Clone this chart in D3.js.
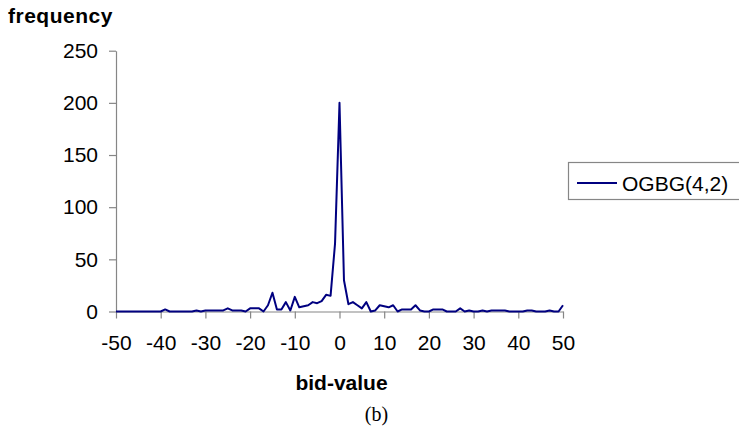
<!DOCTYPE html>
<html>
<head>
<meta charset="utf-8">
<script src="https://cdn.jsdelivr.net/npm/d3@7/dist/d3.min.js"></script>
<style>
  html, body { margin: 0; padding: 0; background: #fff; }
  svg { display: block; }
</style>
</head>
<body>
<svg id="chart" width="739" height="426"></svg>
<script>
// ---- data ----
const bidValues = [
  -50,-49,-48,-47,-46,-45,-44,-43,-42,-41,
  -40,-39,-38,-37,-36,-35,-34,-33,-32,-31,
  -30,-29,-28,-27,-26,-25,-24,-23,-22,-21,
  -20,-19,-18,-17,-16,-15,-14,-13,-12,-11,
  -10,-9,-8,-7,-6,-5,-4,-3,-2,-1,
  0,
  1,2,3,4,5,6,7,8,9,10,
  11,12,13,14,15,16,17,18,19,20,
  21,22,23,24,25,26,27,28,29,30,
  31,32,33,34,35,36,37,38,39,40,
  41,42,43,44,45,46,47,48,49,50
];
const frequencyOGBG = [
  0,0,0,0,0,0,0,0,0,0,
  0,2,0,0,0,0,0,0,1,0,
  1,1,1,1,1,3,1,1,1,0,
  3,3,3,0,6,18,2,2,9,1,
  14,4,5,6,9,8,10,16,15,65,
  200,
  30,7,9,6,3,9,0,1,6,5,
  4,6,0,2,2,2,6,1,0,0,
  2,2,2,0,0,0,3,0,1,0,
  0,1,0,1,1,1,1,0,0,0,
  0,1,1,0,0,0,1,0,0,6
];
const xTickValues = [-50,-40,-30,-20,-10,0,10,20,30,40,50];
const yTickValues = [0,50,100,150,200,250];
const seriesName = "OGBG(4,2)";
const yTitle = "frequency";
const xTitle = "bid-value";
const caption = "(b)";

// ---- drawing ----
const svg = d3.select("#chart");
const axisColor = "#868686";
const lineColor = "#000080";
const font = "'Liberation Sans', Arial, sans-serif";

const x = d3.scaleLinear().domain([-50, 50]).range([116, 563]);
const y = d3.scaleLinear().domain([0, 250]).range([311.5, 50.7]);

// y axis
const yAxis = svg.append("g")
  .attr("transform", `translate(${x(-50)},0)`)
  .call(d3.axisLeft(y).tickValues(yTickValues).tickFormat(d => String(d))
    .tickSize(7).tickSizeOuter(0).tickPadding(11));
// x axis
const xAxis = svg.append("g")
  .attr("transform", `translate(0,${y(0)})`)
  .call(d3.axisBottom(x).tickValues(xTickValues).tickFormat(d => String(d))
    .tickSize(7).tickSizeOuter(0).tickPadding(16.5));

[yAxis, xAxis].forEach(g => {
  g.selectAll("path.domain").attr("stroke", axisColor).attr("stroke-width", 1.2);
  g.selectAll(".tick line").attr("stroke", axisColor).attr("stroke-width", 1.2);
  g.selectAll(".tick text")
    .attr("fill", "#000")
    .style("font-family", font)
    .style("font-size", "21px");
});

// series line
const line = d3.line()
  .x((d, i) => x(bidValues[i]))
  .y(d => y(d));
svg.append("path")
  .datum(frequencyOGBG)
  .attr("fill", "none")
  .attr("stroke", lineColor)
  .attr("stroke-width", 2)
  .attr("stroke-linejoin", "round")
  .attr("d", line);

// titles
svg.append("text")
  .attr("x", 8).attr("y", 23)
  .style("font-family", font).style("font-weight", "bold").style("font-size", "21px")
  .style("letter-spacing", "0.5px")
  .text(yTitle);
svg.append("text")
  .attr("x", (x(-50) + x(50)) / 2 + 2).attr("y", 390)
  .attr("text-anchor", "middle")
  .style("font-family", font).style("font-weight", "bold").style("font-size", "21px")
  .text(xTitle);
svg.append("text")
  .attr("x", 376.5).attr("y", 421)
  .attr("text-anchor", "middle")
  .style("font-family", "'Liberation Serif', 'Times New Roman', serif").style("font-size", "20px")
  .text(caption);

// legend
const legend = svg.append("g");
legend.append("rect")
  .attr("x", 568.5).attr("y", 162.5).attr("width", 180).attr("height", 37)
  .attr("fill", "#fff").attr("stroke", axisColor).attr("stroke-width", 1.2);
legend.append("line")
  .attr("x1", 577).attr("x2", 617).attr("y1", 183).attr("y2", 183)
  .attr("stroke", lineColor).attr("stroke-width", 2);
legend.append("text")
  .attr("x", 622).attr("y", 190.5)
  .style("font-family", font).style("font-size", "21px")
  .text(seriesName);
</script>
</body>
</html>
